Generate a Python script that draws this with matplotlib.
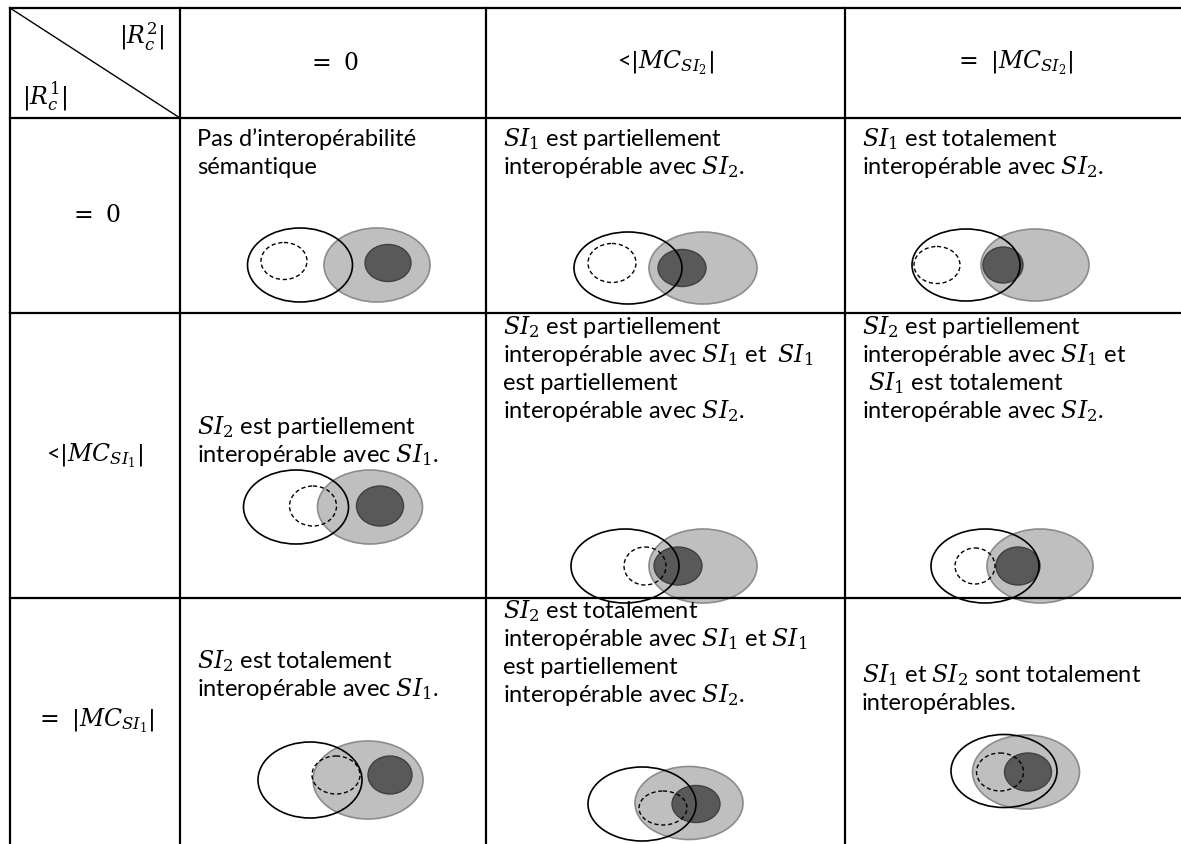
import matplotlib.pyplot as plt
from matplotlib.patches import Ellipse

plt.rcParams['font.family'] = ['Lato', 'DejaVu Sans']
plt.rcParams['mathtext.fontset'] = 'dejavuserif'

W, H = 1181, 844
col_x = [10, 180, 486, 845, 1182]
row_y = [8, 118, 313, 598, 844]

col_heads = [r'$=\ 0$', r'<$\left|MC_{SI_2}\right|$', r'$=\ \left|MC_{SI_2}\right|$']
row_heads = [r'$=\ 0$', r'<$\left|MC_{SI_1}\right|$', r'$=\ \left|MC_{SI_1}\right|$']

cell_lines = [
    [["Pas d’interopérabilité", "sémantique"],
     [r"$SI_1$ est partiellement", r"interopérable avec $SI_2$."],
     [r"$SI_1$ est totalement", r"interopérable avec $SI_2$."]],
    [[r"$SI_2$ est partiellement", r"interopérable avec $SI_1$."],
     [r"$SI_2$ est partiellement", r"interopérable avec $SI_1$ et  $SI_1$",
      "est partiellement", r"interopérable avec $SI_2$."],
     [r"$SI_2$ est partiellement", r"interopérable avec $SI_1$ et",
      r" $SI_1$ est totalement", r"interopérable avec $SI_2$."]],
    [[r"$SI_2$ est totalement", r"interopérable avec $SI_1$."],
     [r"$SI_2$ est totalement", r"interopérable avec $SI_1$ et $SI_1$",
      "est partiellement", r"interopérable avec $SI_2$."],
     [r"$SI_1$ et $SI_2$ sont totalement", "interopérables."]],
]
first_baseline = [[146, 146, 146], [434, 334, 334], [668, 618, 682]]

# ellipses (cx, cy, w, h) per cell: SI1 outline, dashed, grey SI2, dark grey
si1_ell = [[(300, 265, 105, 74), (628, 268, 108, 72), (966, 265, 108, 72)],
           [(296, 507, 105, 74), (625, 566, 108, 74), (985, 566, 108, 74)],
           [(310, 780, 104, 76), (642, 804, 108, 74), (1004, 771, 106, 73)]]
dash_ell = [[(284, 261, 46, 37), (612, 263, 48, 39), (937, 265, 46, 37)],
            [(313, 506, 47, 40), (645, 566, 42, 38), (975, 566, 40, 36)],
            [(336, 775, 48, 38), (663, 808, 48, 34), (1000, 772, 47, 38)]]
grey_ell = [[(377, 265, 106, 74), (703, 268, 108, 72), (1035, 265, 108, 72)],
            [(370, 507, 105, 74), (703, 566, 108, 74), (1040, 566, 106, 74)],
            [(368, 780, 110, 78), (689, 803, 108, 73), (1026, 772, 107, 74)]]
dark_ell = [[(388, 263, 46, 37), (682, 268, 48, 37), (1003, 265, 40, 36)],
            [(380, 506, 47, 40), (678, 566, 48, 38), (1018, 566, 44, 38)],
            [(390, 775, 44, 38), (696, 804, 48, 37), (1028, 772, 47, 38)]]

fig = plt.figure(figsize=(W / 100, H / 100), dpi=100)
ax = fig.add_axes([0, 0, 1, 1])
ax.set_xlim(0, W)
ax.set_ylim(H, 0)
ax.axis('off')

# grid
for y in row_y[:-1]:
    ax.plot([col_x[0], col_x[-1]], [y, y], color='black', lw=1.6, solid_capstyle='projecting')
for x in col_x[:-1]:
    ax.plot([x, x], [row_y[0], H], color='black', lw=1.6, solid_capstyle='projecting')
ax.plot([col_x[0], col_x[1]], [row_y[0], row_y[1]], color='black', lw=1)

fs = 17
hs = 17
ax.text(165, 36, r'$|R_c^2|$', ha='right', va='center', fontsize=hs)
ax.text(22, 97, r'$|R_c^1|$', ha='left', va='center', fontsize=hs)

for j, lab in enumerate(col_heads):
    ax.text((col_x[j + 1] + col_x[j + 2]) / 2, 63, lab, ha='center', va='center', fontsize=hs)
for i, lab in enumerate(row_heads):
    ax.text((col_x[0] + col_x[1]) / 2, (row_y[i + 1] + row_y[i + 2]) / 2, lab,
            ha='center', va='center', fontsize=hs)

for i in range(3):
    for j in range(3):
        x0 = col_x[j + 1] + 17
        for k, line in enumerate(cell_lines[i][j]):
            ax.text(x0, first_baseline[i][j] + 28 * k, line, ha='left', va='baseline', fontsize=fs)
        cx, cy, w, h = grey_ell[i][j]
        ax.add_patch(Ellipse((cx, cy), w, h, facecolor='#bfbfbf', edgecolor='#8c8c8c', lw=1.2))
        cx, cy, w, h = dark_ell[i][j]
        ax.add_patch(Ellipse((cx, cy), w, h, facecolor='#595959', edgecolor='#404040', lw=1))
        cx, cy, w, h = si1_ell[i][j]
        ax.add_patch(Ellipse((cx, cy), w, h, facecolor='none', edgecolor='black', lw=1.2))
        cx, cy, w, h = dash_ell[i][j]
        ax.add_patch(Ellipse((cx, cy), w, h, facecolor='none', edgecolor='black', lw=1,
                             linestyle=(0, (3, 2))))

fig.savefig('out.png', dpi=100)
